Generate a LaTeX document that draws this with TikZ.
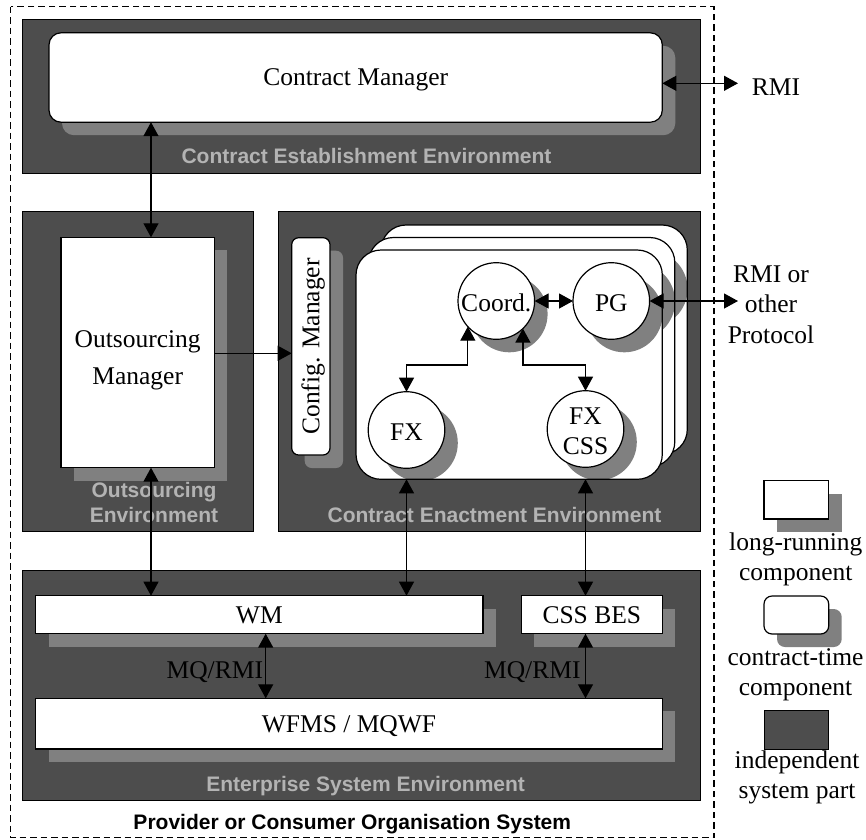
\documentclass[tikz,border=0pt]{standalone}
\usepackage{fontspec}
\setmainfont{Liberation Serif}
\setsansfont{Liberation Sans}
\usetikzlibrary{arrows.meta,shadows,fit}

\definecolor{envdark}{HTML}{4D4D4D}
\definecolor{shadegray}{HTML}{808080}
\definecolor{envtext}{HTML}{B3B3B3}

\begin{document}
\begin{tikzpicture}[x=1pt,y=-1pt,
  every node/.style={inner sep=0pt,outer sep=0pt},
  lab/.style={font=\fontsize{25.5}{30.5}\selectfont},
  capc/.style={text height=16.9pt,text depth=0pt},
  env/.style={draw=black,line width=0.9pt,fill=envdark},
  envfont/.style={font=\sffamily\bfseries\fontsize{21}{25}\selectfont,text=envtext},
  envlbl/.style={envfont,text height=15pt,text depth=0pt},
  shade/.style={drop shadow={shadow xshift=13pt,shadow yshift=-13pt,fill=shadegray,opacity=1}},
  longrun/.style={draw=black,line width=1.2pt,fill=white,shade,lab,capc},
  ctime/.style={longrun,rounded corners=#1},
  boxsize/.style 2 args={minimum width=#1,minimum height=#2},
  layer/.style={fill=white,rounded corners=25pt},
  circ/.style={circle,draw=black,line width=1.2pt,fill=white,minimum size=76.6pt,lab},
  circtxt/.style={text height=20pt,text depth=0pt},
  tipA/.tip={Triangle[length=14pt,width=15pt]},
  dbl/.style={line width=1.2pt,tipA-tipA},
  sgl/.style={line width=1.2pt,-tipA},
  frame/.style={line width=1.2pt,dash pattern=on 6.5pt off 4pt}
]
\useasboundingbox (0,0) rectangle (866,839);

% organisation boundary
\draw[frame] (10.7,6.7) rectangle (714,837.7);
\node[font=\sffamily\bfseries\fontsize{21}{25}\selectfont,text height=15pt,text depth=0pt]
  (org) at (352.3,821.8) {Provider or Consumer Organisation System};

% independent system parts
\node[env,fit={(22.7,19.3) (700.7,173)}] (cee) {};
\node[env,fit={(22.7,211.7) (253.3,531.7)}] (oe) {};
\node[env,fit={(278.3,211.7) (700.7,531.7)}] (cne) {};
\node[env,fit={(22.7,570.7) (700.7,800.7)}] (ese) {};

\node[envlbl] (ceeLbl) at (366.5,156.2) {Contract Establishment Environment};
\node[envfont,align=center] (oeLbl) at (154,502) {Outsourcing\\Environment};
\node[envlbl] (cneLbl) at (494.5,514.5) {Contract Enactment Environment};
\node[envlbl] (eseLbl) at (365.7,783.7) {Enterprise System Environment};

% long-running and contract-time components
\node[ctime=12pt,boxsize={613.3pt}{89.4pt}] (cm) at (355.65,77.5) {Contract Manager};
\node[longrun,fit={(61,237.3) (214.3,467.7)}] (om) {};
\node[lab,align=center] (omLbl) at (137.7,360.3) {Outsourcing\\[6.2pt]Manager};
\node[ctime=7pt,rotate=90,boxsize={217.3pt}{38.3pt}] (cfg) at (310.85,346.35) {Config. Manager};
\node[longrun,boxsize={447.3pt}{38pt}] (wm) at (259.35,614.7) {WM};
\node[longrun,boxsize={141pt}{38pt}] (bes) at (591.8,614.7) {CSS BES};
\node[longrun,boxsize={626.6pt}{50.7pt}] (wfms) at (349,723.65) {WFMS / MQWF};

% stacked contract-time instances, back to front
\foreach \d/\nm in {25/ctB,12.5/ctM,0/ctF}{
  \begin{scope}[shift={(\d,-\d)}]
    \node[layer,fit={(356,250) (662.3,479.3)}] (\nm) {};
    \begin{scope}
      \clip[rounded corners=25pt] (\nm.north west) rectangle (\nm.south east);
      \foreach \cx/\cy in {496.3/301,611.3/301,406.5/430,585.5/429}
        \fill[shadegray] (\cx+13,\cy+13) circle[radius=38.3];
    \end{scope}
    \draw[line width=1.2pt,rounded corners=25pt] (\nm.north west) rectangle (\nm.south east);
  \end{scope}
}

\node[circ,circtxt] (coord) at (496.3,301) {Coord.};
\node[circ,circtxt] (pg) at (611.3,301) {PG};
\node[circ,circtxt] (fx) at (406.5,430) {FX};
\node[circ] (fxcss) at (585.5,429) {};
\node[lab,align=center] (fxcssLbl) at (585.5,431.5) {FX\\CSS};

% connectors
\coordinate (colA) at (151,0);
\coordinate (colL) at (265.7,0);
\coordinate (rowR) at (0,83.3);
\coordinate (rowB) at (0,353.3);
\coordinate (bend) at (0,365);
\coordinate (rmiEnd) at (738,83.3);
\coordinate (protoEnd) at (738,301);

\draw[dbl] (cm.south -| colA) -- (om.north -| colA);
\draw[dbl] (om.south -| colA) -- (wm.north -| colA);
\draw[sgl] (om.east |- rowB) -- (cfg.north |- rowB);
\draw[dbl] (cm.east |- rowR) -- (rmiEnd);
\draw[dbl] (coord) -- (pg);
\draw[dbl] (pg) -- (protoEnd);
\draw[dbl] (coord.222) -- (coord.222 |- bend) -| (fx.north);
\draw[dbl] (coord.314) -- (coord.314 |- bend) -| (fxcss.north);
\draw[dbl] (ctF.south -| fx) -- (wm.north -| fx);
\draw[dbl] (ctF.south -| fxcss) -- (bes.north -| fxcss);
\draw[dbl] (wm.south -| colL) -- (wfms.north -| colL);
\draw[dbl] (bes.south -| fxcss) -- (wfms.north -| fxcss);

\node[lab,capc,anchor=east] (mqA) at (263,670) {MQ/RMI};
\node[lab,capc,anchor=east] (mqB) at (580.5,670) {MQ/RMI};
\node[lab,capc] (rmi) at (776,87.2) {RMI};
\node[lab,align=center] (proto) at (771,304.4) {RMI or\\other\\Protocol};

% legend
\node[longrun,fit={(764,480.7) (828.7,519)}] (lgLR) {};
\node[lab,align=center] (lgLRt) at (795.8,559.6) {long-running\\component};
\node[ctime=8pt,fit={(764,596) (828.7,634)}] (lgCT) {};
\node[lab,align=center] (lgCTt) at (795.5,674.8) {contract-time\\component};
\node[env,fit={(764,710.7) (828.7,749)}] (lgIN) {};
\node[lab,align=center] (lgINt) at (797,777.4) {independent\\system part};
\end{tikzpicture}
\end{document}
